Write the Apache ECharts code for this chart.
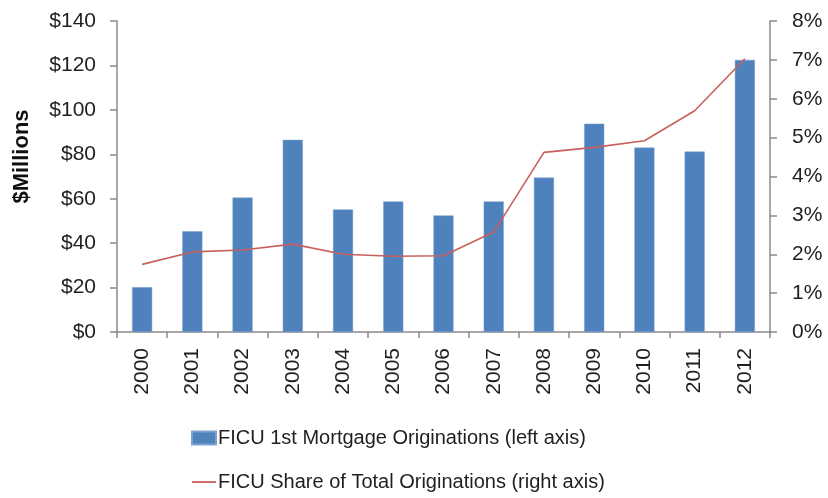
<!DOCTYPE html>
<html>
<head>
<meta charset="utf-8">
<script src="https://cdn.jsdelivr.net/npm/echarts@6/dist/echarts.min.js"></script>
<style>
  html, body { margin: 0; padding: 0; background: #fff; }
  #chart { width: 828px; height: 498px; }
</style>
</head>
<body>
<div id="chart"></div>
<script>
const years = ['2000', '2001', '2002', '2003', '2004', '2005', '2006', '2007', '2008', '2009', '2010', '2011', '2012']
// $ millions
const originations = [20.2, 45.3, 60.5, 86.5, 55.2, 58.8, 52.5, 58.8, 69.5, 93.8, 83, 81.2, 122.5]
// percent of total
const share = [1.74, 2.06, 2.11, 2.26, 2.0, 1.95, 1.96, 2.57, 4.62, 4.75, 4.92, 5.69, 7.03]

const barName = 'FICU 1st Mortgage Originations (left axis)'
const lineName = 'FICU Share of Total Originations (right axis)'

const font = 'Liberation Sans'
const axisGray = '#8a8a8a'
const labelColor = '#1f1f1f'

const myChart = echarts.init(document.getElementById('chart'), null, { renderer: 'canvas' })

myChart.setOption({
  animation: false,
  textStyle: { fontFamily: font },
  grid: { left: 117, right: 58, top: 21, bottom: 166, containLabel: false },
  legend: {
    orient: 'vertical',
    left: 186,
    top: 423,
    itemWidth: 24,
    itemHeight: 13,
    itemGap: 24,
    textStyle: { fontSize: 20, color: labelColor, fontFamily: font, padding: [0, 0, 0, -3] },
    data: [
      { name: barName, icon: 'rect' },
      // flat line icon, no marker
      { name: lineName, icon: 'path://M0,0 L24,0 L24,1.8 L0,1.8 Z' },
    ],
  },
  xAxis: {
    type: 'category',
    data: years,
    axisLine: { lineStyle: { color: axisGray, width: 1.5 } },
    axisTick: { show: true, alignWithLabel: false, length: 6, lineStyle: { color: axisGray, width: 1.5 } },
    axisLabel: { rotate: 90, fontSize: 21, color: labelColor, margin: 16, interval: 0 },
  },
  yAxis: [
    {
      type: 'value',
      min: 0,
      max: 140,
      interval: 20,
      name: '$Millions',
      nameLocation: 'middle',
      nameGap: 84,
      nameTextStyle: { fontSize: 22, fontWeight: 'bold', color: '#111', padding: [0, 0, 0, 40] },
      splitLine: { show: false },
      axisLine: { show: true, lineStyle: { color: axisGray, width: 1.5 } },
      axisTick: { show: true, length: 7, lineStyle: { color: axisGray, width: 1.5 } },
      axisLabel: { formatter: '${value}', fontSize: 21, color: labelColor, margin: 21 },
    },
    {
      type: 'value',
      min: 0,
      max: 8,
      interval: 1,
      position: 'right',
      splitLine: { show: false },
      axisLine: { show: true, lineStyle: { color: axisGray, width: 1.5 } },
      axisTick: { show: true, length: 7, lineStyle: { color: axisGray, width: 1.5 } },
      axisLabel: { formatter: '{value}%', fontSize: 21, color: labelColor, margin: 22 },
    },
  ],
  series: [
    {
      name: barName,
      type: 'bar',
      yAxisIndex: 0,
      data: originations,
      barCategoryGap: '60%',
      itemStyle: { color: '#4F81BD', borderColor: '#7fa3cf', borderWidth: 0.5 },
    },
    {
      name: lineName,
      type: 'line',
      yAxisIndex: 1,
      data: share,
      symbol: 'none',
      lineStyle: { color: '#C8605D', width: 1.6 },
      itemStyle: { color: '#C8605D' },
    },
  ],
})
</script>
</body>
</html>
